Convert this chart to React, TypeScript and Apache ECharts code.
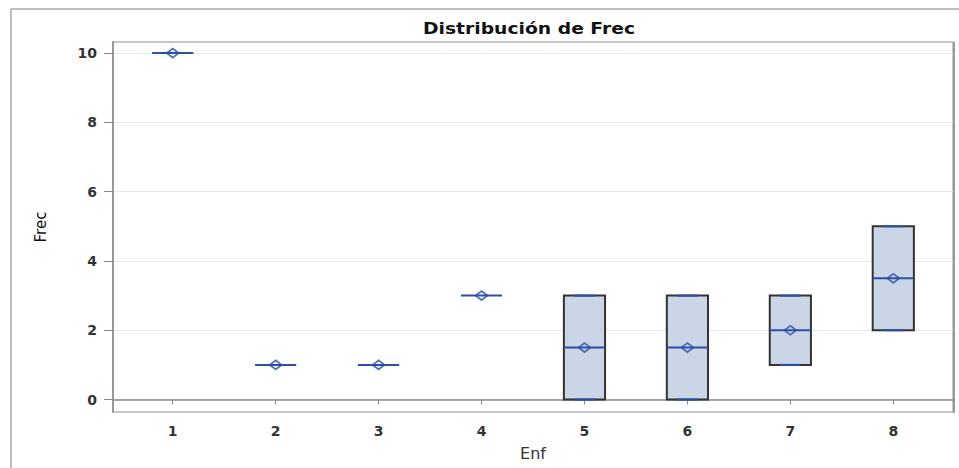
import React, { useEffect, useRef } from "react";
import * as echarts from "echarts";

const categories = [1, 2, 3, 4, 5, 6, 7, 8];
const minVals = [10, 1, 1, 3, 0, 0, 1, 2];
const q1Vals = [10, 1, 1, 3, 0, 0, 1, 2];
const medianVals = [10, 1, 1, 3, 1.5, 1.5, 2, 3.5];
const q3Vals = [10, 1, 1, 3, 3, 3, 3, 5];
const maxVals = [10, 1, 1, 3, 3, 3, 3, 5];
const meanVals = [10, 1, 1, 3, 1.5, 1.5, 2, 3.5];
const yTicks = [0, 2, 4, 6, 8, 10];

const BLUE = "#2c4fa8";
const BOX_FILL = "#cad5e5";
const BOX_STROKE = "#333333";
const BOX_WIDTH = 0.4;
const FONT = "DejaVu Sans";

export default function App() {
  const ref = useRef<HTMLDivElement>(null);
  useEffect(() => {
    if (!ref.current) return;
    const chart = echarts.init(ref.current, null, { renderer: "svg" });
    const boxData = categories.map((c, i) => [c, minVals[i], q1Vals[i], medianVals[i], q3Vals[i], maxVals[i]]);
    const meanData = categories.map((c, i) => [c, meanVals[i]]);
    chart.setOption({
      animation: false,
      backgroundColor: "#ffffff",
      graphic: [
        { type: "line", shape: { x1: 11, y1: 9, x2: 11, y2: 468 }, style: { stroke: "#bdbdbd", lineWidth: 2 } },
        { type: "line", shape: { x1: 11, y1: 9, x2: 959, y2: 9 }, style: { stroke: "#bdbdbd", lineWidth: 2 } },
        { type: "line", shape: { x1: 954, y1: 42, x2: 954, y2: 413 }, style: { stroke: "#999", lineWidth: 2 } },
        {
          type: "text",
          x: 529,
          y: 29,
          scaleX: 1.25,
          style: {
            text: "Distribución de Frec",
            fontFamily: FONT,
            fontWeight: "bold",
            fontSize: 15,
            fill: "#111",
            align: "center",
            verticalAlign: "middle",
          },
        },
      ],
      grid: {
        left: 113,
        right: 6,
        top: 42,
        bottom: 56,
        show: true,
        borderColor: "#b5b5b5",
        borderWidth: 1.5,
        backgroundColor: "transparent",
        outerBoundsMode: "none",
        containLabel: false,
      },
      xAxis: {
        type: "value",
        min: 0.42,
        max: 8.58,
        name: "Enf",
        nameLocation: "middle",
        nameGap: 33,
        nameTextStyle: { fontFamily: FONT, fontSize: 16, color: "#333" },
        axisLine: { show: true, lineStyle: { color: "#888", width: 1.5 } },
        axisTick: { show: true, customValues: categories, length: 5, lineStyle: { color: "#888" } },
        axisLabel: {
          customValues: categories,
          margin: 12,
          fontFamily: FONT,
          fontSize: 14,
          fontWeight: "bold",
          color: "#333",
        },
        splitLine: { show: false },
      },
      yAxis: {
        type: "value",
        min: -0.36,
        max: 10.32,
        splitNumber: 5,
        name: "Frec",
        nameLocation: "middle",
        nameGap: 65,
        nameRotate: 90,
        nameTextStyle: { fontFamily: FONT, fontSize: 15, color: "#111" },
        axisLine: { show: true, lineStyle: { color: "#888", width: 1.5 } },
        axisTick: { show: true, customValues: yTicks, length: 9, lineStyle: { color: "#888" } },
        axisLabel: {
          customValues: yTicks,
          margin: 16,
          fontFamily: FONT,
          fontSize: 14,
          fontWeight: "bold",
          color: "#333",
        },
        splitLine: { show: true, lineStyle: { color: "#e6e6e6", width: 1 } },
      },
      series: [
        {
          type: "custom",
          data: boxData,
          encode: { x: 0, y: [1, 2, 3, 4, 5] },
          z: 2,
          renderItem: (params: any, api: any) => {
            const x = api.value(0);
            const lo = api.value(1);
            const q1 = api.value(2);
            const med = api.value(3);
            const q3 = api.value(4);
            const hi = api.value(5);
            const halfW = api.size([BOX_WIDTH, 0])[0] / 2;
            const cx = api.coord([x, med])[0];
            const yLo = api.coord([x, lo])[1];
            const yQ1 = api.coord([x, q1])[1];
            const yMed = api.coord([x, med])[1];
            const yQ3 = api.coord([x, q3])[1];
            const yHi = api.coord([x, hi])[1];
            const children: any[] = [];
            if (q3 > q1) {
              children.push({
                type: "rect",
                shape: { x: cx - halfW, y: yQ3, width: 2 * halfW, height: yQ1 - yQ3 },
                style: { fill: BOX_FILL, stroke: BOX_STROKE, lineWidth: 2 },
              });
              if (hi > q3) {
                children.push({ type: "line", shape: { x1: cx, y1: yQ3, x2: cx, y2: yHi }, style: { stroke: BLUE, lineWidth: 1.5 } });
              }
              if (lo < q1) {
                children.push({ type: "line", shape: { x1: cx, y1: yQ1, x2: cx, y2: yLo }, style: { stroke: BLUE, lineWidth: 1.5 } });
              }
              children.push({ type: "line", shape: { x1: cx - halfW / 2, y1: yHi, x2: cx + halfW / 2, y2: yHi }, style: { stroke: BLUE, lineWidth: 2 } });
              children.push({ type: "line", shape: { x1: cx - halfW / 2, y1: yLo, x2: cx + halfW / 2, y2: yLo }, style: { stroke: BLUE, lineWidth: 2 } });
            }
            children.push({
              type: "line",
              shape: { x1: cx - halfW, y1: yMed, x2: cx + halfW, y2: yMed },
              style: { stroke: BLUE, lineWidth: 2 },
            });
            return { type: "group", children };
          },
        },
        {
          type: "scatter",
          data: meanData,
          z: 3,
          symbol: "diamond",
          symbolSize: [12, 9],
          itemStyle: { color: "rgba(0,0,0,0)", borderColor: BLUE, borderWidth: 1.8 },
        },
      ],
    });
    return () => chart.dispose();
  }, []);
  return <div ref={ref} style={{ position: "absolute", left: 0, top: 0, width: 959, height: 468 }} />;
}
